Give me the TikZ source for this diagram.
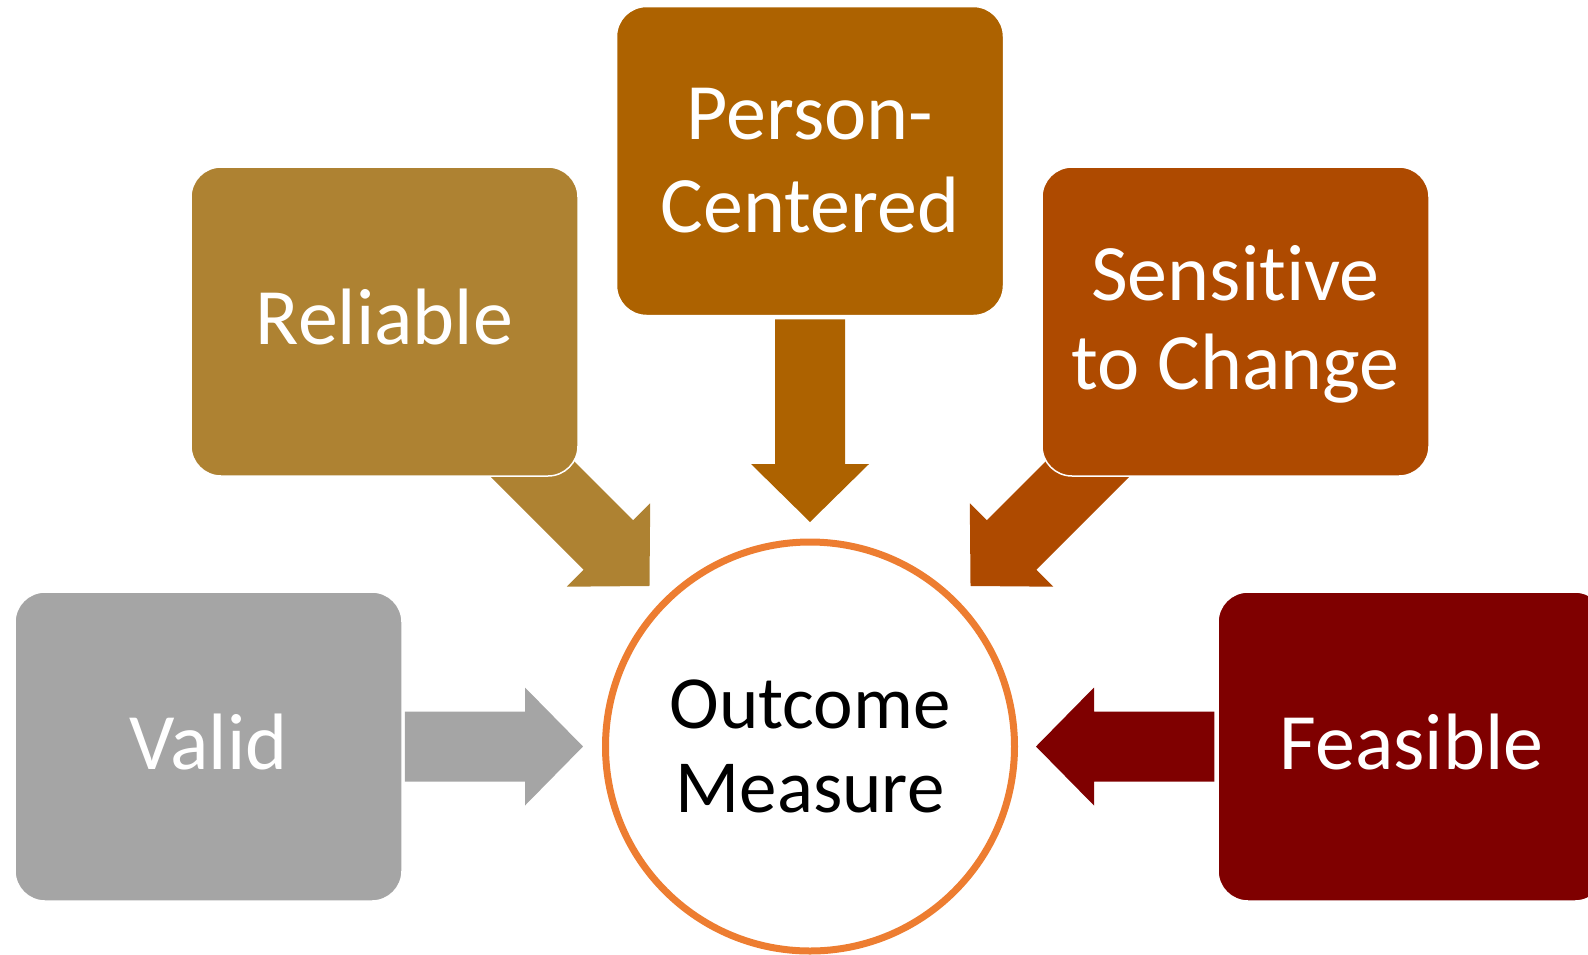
\documentclass[tikz,border=0pt]{standalone}
\usepackage{fontspec}
\setmainfont[Ligatures=NoCommon]{Carlito}
\usetikzlibrary{calc}
\definecolor{relc}{HTML}{AE8232}
\definecolor{pcc}{HTML}{AD6200}
\definecolor{senc}{HTML}{AE4A00}
\definecolor{valc}{HTML}{A5A5A5}
\definecolor{feac}{HTML}{7F0000}
\definecolor{ringc}{HTML}{ED7D31}
\pgfdeclarelayer{bg}
\pgfsetlayers{bg,main}
\newcommand\blockarr[3]{%
  \coordinate (hb) at ($(#3)!58pt!(#2)$);
  \fill[#1] ($(#2)!35pt!90:(#3)$) -- ($(hb)!35pt!90:(#3)$) -- ($(hb)!59pt!90:(#3)$) -- (#3)
    -- ($(hb)!59pt!-90:(#3)$) -- ($(hb)!35pt!-90:(#3)$) -- ($(#2)!35pt!-90:(#3)$) -- cycle;}
\tikzset{
  box/.style={rectangle, rounded corners=30pt, draw=white, line width=1.5pt,
    minimum width=387pt, minimum height=309pt, inner sep=0pt, text=white,
    align=center, font=\fontsize{80}{89}\selectfont},
  oneline/.style={text height=46pt, text depth=0pt},
  ring/.style={circle, draw=ringc, line width=7pt, fill=white, minimum size=409pt,
    inner sep=0pt, align=center, font=\fontsize{75}{84}\selectfont}
}
\begin{document}
\begin{tikzpicture}[x=1pt,y=-1pt]
\useasboundingbox (0,0) rectangle (1588,954);
\node[box, oneline, fill=relc] (rel) at (384.5,321.5) {Reliable};
\node[box, fill=pcc, font=\fontsize{80}{93}\selectfont] (pc) at (810,161) {Person-\\Centered};
\node[box, fill=senc, text depth=8pt] (sen) at (1235.5,321.5) {Sensitive\\to Change};
\node[box, oneline, fill=valc] (val) at (208.5,746.5) {Valid};
\node[box, oneline, fill=feac] (fea) at (1411.5,746.5) {Feasible};
\node[ring] (om) at (810,746.5) {Outcome\\Measure};
\coordinate (valtail) at ([xshift=2pt]val.east);
\coordinate (valtip) at ($(om.center)!227pt!(val.east)$);
\coordinate (featail) at ([xshift=-3pt]fea.west);
\coordinate (featip) at ($(om.center)!226pt!(fea.west)$);
\coordinate (pctail) at ([yshift=-3pt]pc.south);
\coordinate (pctip) at ($(om.center)!224.5pt!(pc.south)$);
\coordinate (reltail) at ($(om.center)+(135:438pt)$);
\coordinate (reltip) at ($(om.center)+(135:227pt)$);
\coordinate (sentail) at ($(om.center)+(45:438pt)$);
\coordinate (sentip) at ($(om.center)+(45:227pt)$);
\begin{pgfonlayer}{bg}
\blockarr{valc}{valtail}{valtip}
\blockarr{feac}{featail}{featip}
\blockarr{pcc}{pctail}{pctip}
\blockarr{relc}{reltail}{reltip}
\blockarr{senc}{sentail}{sentip}
\end{pgfonlayer}
\end{tikzpicture}
\end{document}
